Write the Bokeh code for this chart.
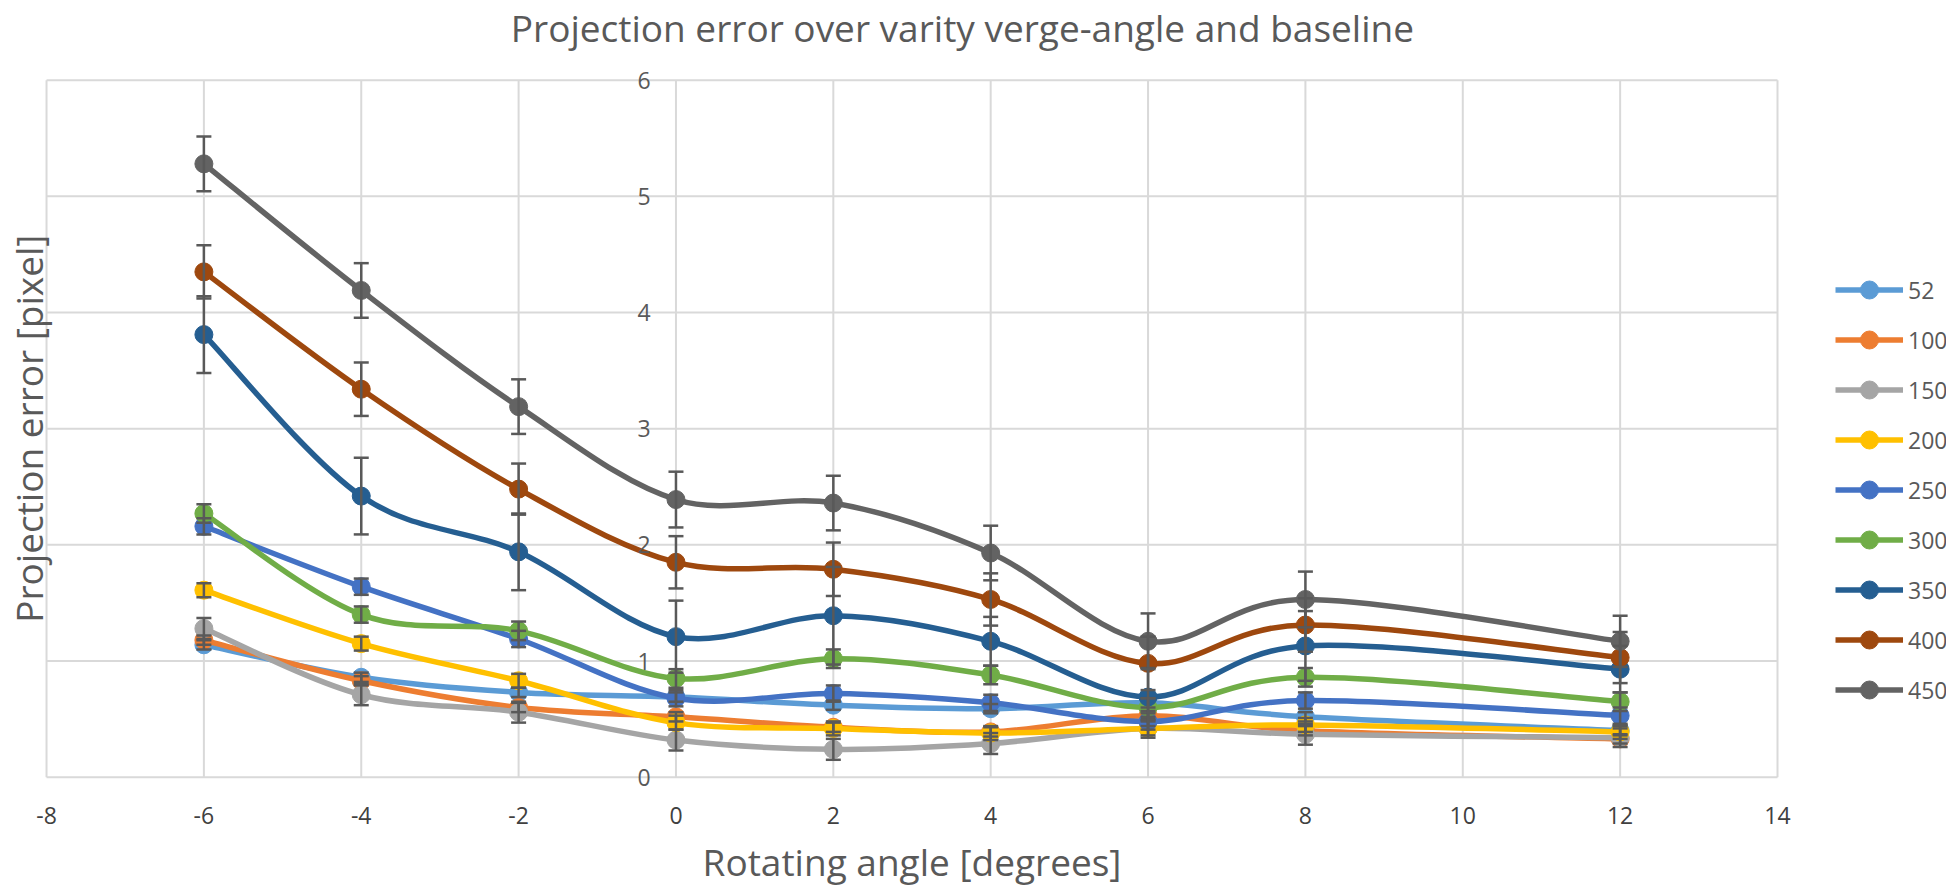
import numpy as np
from bokeh.plotting import figure
from bokeh.models import (ColumnDataSource, Range1d, Whisker, TeeHead,
                          Legend, LegendItem, Label, LabelSet)
from bokeh.core.properties import value
from bokeh.embed import file_html
from bokeh.resources import INLINE

# ---------------- data ----------------
angles = [-6, -4, -2, 0, 2, 4, 6, 8, 12]
baselines = ["52", "100", "150", "200", "250", "300", "350", "400", "450"]

err_52 = [1.14, 0.86, 0.73, 0.69, 0.62, 0.59, 0.64, 0.52, 0.40]
err_100 = [1.18, 0.83, 0.60, 0.52, 0.43, 0.39, 0.53, 0.40, 0.33]
err_150 = [1.28, 0.71, 0.56, 0.32, 0.24, 0.29, 0.42, 0.37, 0.34]
err_200 = [1.61, 1.15, 0.83, 0.47, 0.42, 0.38, 0.42, 0.45, 0.39]
err_250 = [2.16, 1.64, 1.19, 0.68, 0.72, 0.64, 0.48, 0.66, 0.53]
err_300 = [2.27, 1.40, 1.26, 0.85, 1.02, 0.88, 0.60, 0.86, 0.65]
err_350 = [3.81, 2.42, 1.94, 1.21, 1.39, 1.17, 0.69, 1.13, 0.93]
err_400 = [4.35, 3.34, 2.48, 1.85, 1.79, 1.53, 0.98, 1.31, 1.03]
err_450 = [5.28, 4.19, 3.19, 2.39, 2.36, 1.93, 1.17, 1.53, 1.17]

sd_52 = [0.04, 0.04, 0.04, 0.04, 0.04, 0.04, 0.04, 0.04, 0.04]
sd_100 = [0.04, 0.04, 0.04, 0.04, 0.04, 0.04, 0.04, 0.04, 0.04]
sd_150 = [0.09, 0.09, 0.09, 0.09, 0.09, 0.09, 0.08, 0.09, 0.08]
sd_200 = [0.06, 0.06, 0.06, 0.06, 0.06, 0.06, 0.06, 0.06, 0.06]
sd_250 = [0.07, 0.07, 0.07, 0.07, 0.07, 0.07, 0.07, 0.07, 0.07]
sd_300 = [0.08, 0.07, 0.08, 0.08, 0.08, 0.08, 0.08, 0.08, 0.08]
sd_350 = [0.33, 0.33, 0.33, 0.31, 0.42, 0.21, 0.25, 0.30, 0.20]
sd_400 = [0.23, 0.23, 0.22, 0.225, 0.23, 0.225, 0.23, 0.23, 0.22]
sd_450 = [0.235, 0.235, 0.235, 0.24, 0.235, 0.235, 0.24, 0.24, 0.22]

series_values = [err_52, err_100, err_150, err_200, err_250, err_300, err_350, err_400, err_450]
series_sd = [sd_52, sd_100, sd_150, sd_200, sd_250, sd_300, sd_350, sd_400, sd_450]
colors = ["#5B9BD5", "#ED7D31", "#A5A5A5", "#FFC000", "#4472C4",
          "#70AD47", "#255E91", "#9E480E", "#636363"]

x_ticks = [-8, -6, -4, -2, 0, 2, 4, 6, 8, 10, 12, 14]
y_ticks = [0, 1, 2, 3, 4, 5, 6]
x_tick_labels = [str(t) for t in x_ticks]
y_tick_labels = [str(t) for t in y_ticks]

title_text = "Projection error over varity verge-angle and baseline"
x_title = "Rotating angle [degrees]"
y_title = "Projection error [pixel]"

FONT = "Open Sans"
TXT = "#595959"
GRID = "#D9D9D9"

# ---------------- figure ----------------
# The frame covers the whole canvas; the data window (-8..14, 0..6) sits inside it,
# so titles, tick labels and legend can live in the margins without being clipped.
p = figure(width=1946, height=888, output_backend="svg", toolbar_location=None,
           x_range=Range1d(-8.585, 16.148), y_range=Range1d(-0.958, 6.686),
           min_border_left=0, min_border_right=0, min_border_top=0, min_border_bottom=0)
p.background_fill_color = "white"
p.border_fill_color = "white"
p.outline_line_color = None
p.xaxis.visible = False
p.yaxis.visible = False
p.xgrid.visible = False
p.ygrid.visible = False

# grid lines limited to the data window
x_lo, x_hi = x_ticks[0], x_ticks[-1]
y_lo, y_hi = y_ticks[0], y_ticks[-1]
p.segment(x0=x_ticks, x1=x_ticks, y0=[y_lo] * len(x_ticks), y1=[y_hi] * len(x_ticks),
          line_color=GRID, line_width=2)
p.segment(x0=[x_lo] * len(y_ticks), x1=[x_hi] * len(y_ticks), y0=y_ticks, y1=y_ticks,
          line_color=GRID, line_width=2)


def smooth_segments(xs, ys):
    n = len(xs)
    P = list(zip(xs, ys))
    out = dict(x0=[], y0=[], x1=[], y1=[], cx0=[], cy0=[], cx1=[], cy1=[])
    for i in range(n - 1):
        pa = P[i - 1] if i > 0 else P[i]
        pb = P[i]
        pc = P[i + 1]
        pd = P[i + 2] if i + 2 < n else P[i + 1]
        out["x0"].append(pb[0]); out["y0"].append(pb[1])
        out["x1"].append(pc[0]); out["y1"].append(pc[1])
        out["cx0"].append(pb[0] + (pc[0] - pa[0]) / 6.0)
        out["cy0"].append(pb[1] + (pc[1] - pa[1]) / 6.0)
        out["cx1"].append(pc[0] - (pd[0] - pb[0]) / 6.0)
        out["cy1"].append(pc[1] - (pd[1] - pb[1]) / 6.0)
    return out


items = []
for name, vals, sds, col in zip(baselines, series_values, series_sd, colors):
    seg = ColumnDataSource(smooth_segments(angles, vals))
    p.bezier(x0="x0", y0="y0", x1="x1", y1="y1", cx0="cx0", cy0="cy0", cx1="cx1", cy1="cy1",
             source=seg, line_color=col, line_width=5.5)
    src = ColumnDataSource(dict(x=angles, y=vals,
                                upper=[v + s for v, s in zip(vals, sds)],
                                lower=[v - s for v, s in zip(vals, sds)]))
    wk = Whisker(source=src, base="x", upper="upper", lower="lower",
                 line_color="#595959", line_width=2.5, level="glyph",
                 upper_head=TeeHead(size=15, line_color="#595959", line_width=2.5),
                 lower_head=TeeHead(size=15, line_color="#595959", line_width=2.5))
    p.add_layout(wk)
    sc = p.scatter(x="x", y="y", source=src, marker="circle", size=18,
                   fill_color=col, line_color=col)
    # legend swatch line (no visible data; NaN keeps one row so the legend draws it)
    leg_line = p.line(x=[np.nan], y=[np.nan], line_color=col, line_width=5.5)
    items.append(LegendItem(label=name, renderers=[leg_line, sc]))

legend = Legend(items=items, location=(1835, 176), orientation="vertical",
                glyph_width=68, glyph_height=45, label_height=45, spacing=5,
                label_standoff=5, padding=0, margin=0,
                border_line_color=None, background_fill_alpha=0,
                label_text_font=FONT, label_text_font_size="23px", label_text_color=TXT,
                label_text_baseline="middle")
p.add_layout(legend)

# tick labels
ysrc = ColumnDataSource(dict(x=[0] * len(y_ticks), y=y_ticks, t=y_tick_labels))
p.add_layout(LabelSet(x="x", y="y", text="t", source=ysrc, x_offset=-32,
                      text_align="center", text_baseline="middle",
                      text_font=value(FONT), text_font_size=value("23px"), text_color=TXT))
xsrc = ColumnDataSource(dict(x=x_ticks, y=[0] * len(x_ticks), t=x_tick_labels))
p.add_layout(LabelSet(x="x", y="y", text="t", source=xsrc, y_offset=-38,
                      text_align="center", text_baseline="middle",
                      text_font=value(FONT), text_font_size=value("23px"), text_color="#404040"))

# titles
p.add_layout(Label(x=3.64, y=6, y_offset=53, text=title_text, text_align="center",
                   text_baseline="alphabetic", text_font=FONT, text_font_size="37px",
                   text_color=TXT))
p.add_layout(Label(x=3, y=0, y_offset=-84, text=x_title, text_align="center",
                   text_baseline="alphabetic", text_font=FONT, text_font_size="37px",
                   text_color=TXT))
p.add_layout(Label(x=-8.23, y=3, angle=np.pi / 2, text=y_title,
                   text_align="center", text_baseline="alphabetic", text_font=FONT,
                   text_font_size="37px", text_color=TXT))

open("out.html", "w").write(file_html(p, INLINE))
